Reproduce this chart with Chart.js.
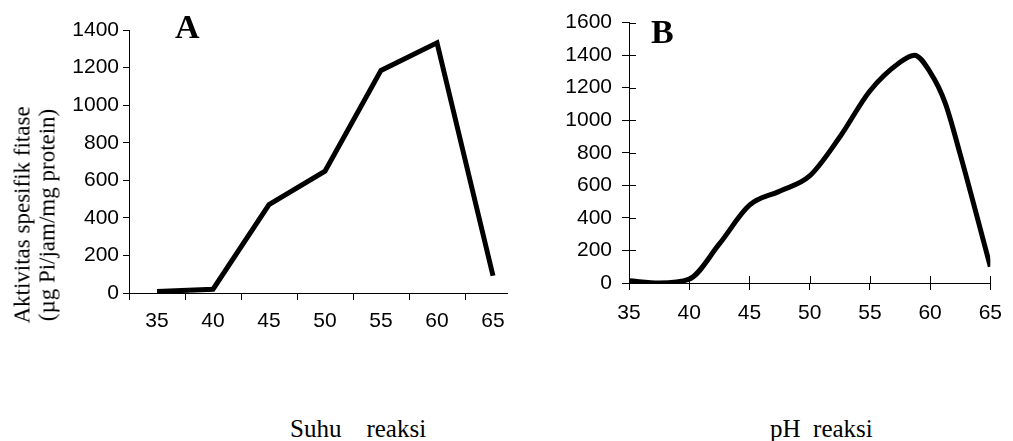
<!DOCTYPE html>
<html lang="id">
<head>
<meta charset="utf-8">
<title>Aktivitas spesifik fitase</title>
<script src="https://cdn.jsdelivr.net/npm/chart.js"></script>
<style>
  html, body { margin: 0; padding: 0; background: #fff; }
  body { position: relative; width: 1013px; height: 441px; overflow: hidden; }
  .abs { position: absolute; }
  .serif { font-family: "Liberation Serif", "Times New Roman", serif; color: #000; white-space: pre; line-height: 1; }
  .panel-label { font-size: 34px; font-weight: bold; }
  .xtitle { font-size: 25px; }
  .ytitle { font-size: 23px; line-height: 24.5px; text-align: center; width: 260px;
            transform: translate(-50%, -50%) rotate(-90deg); }
</style>
</head>
<body>

<div class="abs" style="left:0;top:0;width:508px;height:330px;overflow:hidden">
  <div style="position:relative;width:540px;height:330px"><canvas id="chartA"></canvas></div>
</div>
<div class="abs" style="left:508px;top:0;width:505px;height:330px"><canvas id="chartB"></canvas></div>

<div class="abs serif ytitle" style="left:35px;top:215px">Aktivitas spesifik fitase
(µg Pi/jam/mg protein)</div>
<div class="abs serif panel-label" style="left:175px;top:10px">A</div>
<div class="abs serif panel-label" style="left:651px;top:15px">B</div>
<div class="abs serif xtitle" style="left:290px;top:416px">Suhu    reaksi</div>
<div class="abs serif xtitle" style="left:770px;top:416px">pH  reaksi</div>

<script>
// panel A: suhu reaksi
const suhuLabels = ['35', '40', '45', '50', '55', '60', '65'];
const suhuActivity = [8, 20, 470, 648, 1185, 1332, 92];

// panel B: pH reaksi
const phValues = [35, 37.5, 40, 42.5, 45, 47.5, 50, 52.5, 55, 57.5, 58.7, 60, 61.25, 62.5, 65];
const phActivity = [14, 0, 24, 240, 478, 564, 658, 897, 1180, 1356, 1400, 1296, 1107, 790, 100];

const tickFont = { family: '"Liberation Sans", Arial, sans-serif', size: 21 };
const plain = v => String(v);

// fixed axis sizes so both plots sit where the original ones are
function fixWidth(w) { return function (scale) { scale.width = w; }; }
function fixHeight(h) { return function (scale) { scale.height = h; }; }

// B has tick marks that cross the axis; the grid only draws the outer half
const innerTicks = {
  id: 'innerTicks',
  beforeDatasetsDraw(chart) {
    const { ctx, chartArea, scales } = chart;
    ctx.save();
    ctx.strokeStyle = '#000';
    ctx.lineWidth = 1;
    ctx.beginPath();
    scales.y.ticks.forEach(t => {
      const py = Math.round(scales.y.getPixelForValue(t.value)) + 0.5;
      ctx.moveTo(chartArea.left, py);
      ctx.lineTo(chartArea.left + 7, py);
    });
    scales.x.ticks.forEach(t => {
      const px = Math.round(scales.x.getPixelForValue(t.value)) + 0.5;
      ctx.moveTo(px, chartArea.bottom);
      ctx.lineTo(px, chartArea.bottom - 7);
    });
    ctx.stroke();
    ctx.restore();
  }
};

new Chart(document.getElementById('chartA'), {
  type: 'line',
  data: {
    labels: suhuLabels,
    datasets: [{
      data: suhuActivity,
      borderColor: '#000',
      borderWidth: 5,
      pointRadius: 0,
      tension: 0,
      fill: false
    }]
  },
  options: {
    responsive: true,
    maintainAspectRatio: false,
    animation: false,
    layout: { padding: { top: 30, right: 19, bottom: 0, left: 0 } },
    plugins: { legend: { display: false }, tooltip: { enabled: false } },
    scales: {
      x: {
        offset: true,
        afterFit: fixHeight(37),
        grid: { offset: true, drawOnChartArea: false, tickLength: 7, color: '#000' },
        border: { color: '#000' },
        ticks: { color: '#000', font: tickFont, padding: 9, maxRotation: 0 }
      },
      y: {
        min: 0,
        max: 1400,
        afterFit: fixWidth(129),
        grid: { drawOnChartArea: false, tickLength: 6, color: '#000' },
        border: { color: '#000' },
        ticks: { stepSize: 200, color: '#000', font: tickFont, padding: 4, callback: plain }
      }
    }
  }
});

new Chart(document.getElementById('chartB'), {
  type: 'line',
  data: {
    datasets: [{
      data: phValues.map((x, i) => ({ x: x, y: phActivity[i] })),
      borderColor: '#000',
      borderWidth: 5,
      pointRadius: 0,
      cubicInterpolationMode: 'monotone',
      fill: false
    }]
  },
  options: {
    responsive: true,
    maintainAspectRatio: false,
    animation: false,
    layout: { padding: { top: 16, right: 14, bottom: 0, left: 0 } },
    plugins: { legend: { display: false }, tooltip: { enabled: false } },
    scales: {
      x: {
        type: 'linear',
        min: 35,
        max: 65,
        afterFit: fixHeight(47),
        grid: { drawOnChartArea: false, tickLength: 7, color: '#000' },
        border: { color: '#000' },
        ticks: { stepSize: 5, color: '#000', font: tickFont, padding: 11, maxRotation: 0, callback: plain }
      },
      y: {
        min: 0,
        max: 1600,
        afterFit: fixWidth(121),
        grid: { drawOnChartArea: false, tickLength: 7, color: '#000' },
        border: { color: '#000' },
        ticks: { stepSize: 200, color: '#000', font: tickFont, padding: 10, callback: plain }
      }
    }
  },
  plugins: [innerTicks]
});
</script>
</body>
</html>
